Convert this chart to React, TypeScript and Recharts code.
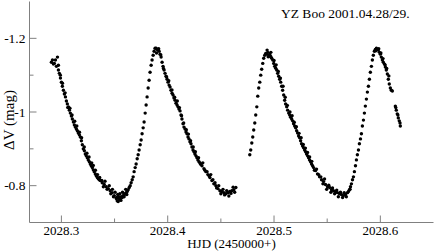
import { ScatterChart, Scatter, XAxis, YAxis } from 'recharts';

// YZ Boo light curve, night of 2001.04.28/29 (HJD - 2450000, delta V)
const nightFirst: [number, number][] = [
  [2028.2906, -1.135], [2028.2916, -1.141], [2028.2925, -1.130], [2028.2934, -1.132], [2028.2944, -1.141],
  [2028.2953, -1.124], [2028.2963, -1.149], [2028.2972, -1.114], [2028.2972, -1.127], [2028.2981, -1.105],
  [2028.2990, -1.100], [2028.2991, -1.092], [2028.3000, -1.081], [2028.3009, -1.070], [2028.3010, -1.078],
  [2028.3019, -1.059], [2028.3028, -1.049], [2028.3035, -1.052], [2028.3038, -1.041], [2028.3047, -1.030],
  [2028.3056, -1.022], [2028.3060, -1.012], [2028.3066, -1.014], [2028.3075, -1.005], [2028.3080, -1.010],
  [2028.3084, -0.997], [2028.3094, -0.989], [2028.3100, -0.992], [2028.3103, -0.981], [2028.3113, -0.973],
  [2028.3122, -0.965], [2028.3125, -0.975], [2028.3131, -0.959], [2028.3141, -0.954], [2028.3145, -0.962],
  [2028.3150, -0.949], [2028.3159, -0.943], [2028.3169, -0.938], [2028.3170, -0.945], [2028.3178, -0.932],
  [2028.3188, -0.922], [2028.3190, -0.930], [2028.3197, -0.911], [2028.3206, -0.900], [2028.3215, -0.905],
  [2028.3216, -0.895], [2028.3225, -0.886], [2028.3234, -0.881], [2028.3240, -0.888], [2028.3244, -0.876],
  [2028.3253, -0.870], [2028.3260, -0.878], [2028.3263, -0.865], [2028.3272, -0.859], [2028.3281, -0.854],
  [2028.3285, -0.862], [2028.3291, -0.849], [2028.3300, -0.843], [2028.3300, -0.855], [2028.3309, -0.838],
  [2028.3319, -0.832], [2028.3320, -0.842], [2028.3328, -0.827], [2028.3338, -0.822], [2028.3340, -0.830],
  [2028.3347, -0.819], [2028.3356, -0.816], [2028.3360, -0.822], [2028.3366, -0.814], [2028.3380, -0.814],
  [2028.3384, -0.808], [2028.3395, -0.797], [2028.3403, -0.803], [2028.3410, -0.812], [2028.3422, -0.797],
  [2028.3430, -0.790], [2028.3441, -0.792], [2028.3450, -0.800], [2028.3459, -0.786], [2028.3465, -0.778],
  [2028.3478, -0.781], [2028.3480, -0.790], [2028.3490, -0.770], [2028.3497, -0.773], [2028.3505, -0.782],
  [2028.3516, -0.765], [2028.3520, -0.768], [2028.3525, -0.759], [2028.3530, -0.776], [2028.3534, -0.757],
  [2028.3540, -0.770], [2028.3544, -0.765], [2028.3550, -0.778], [2028.3553, -0.762], [2028.3560, -0.760],
  [2028.3563, -0.770], [2028.3572, -0.768], [2028.3575, -0.782], [2028.3581, -0.773], [2028.3590, -0.770],
  [2028.3591, -0.776], [2028.3600, -0.778], [2028.3605, -0.790], [2028.3609, -0.781], [2028.3615, -0.776],
  [2028.3619, -0.784], [2028.3628, -0.789], [2028.3638, -0.795], [2028.3647, -0.800], [2028.3656, -0.808],
  [2028.3666, -0.816], [2028.3675, -0.824], [2028.3684, -0.838], [2028.3694, -0.849], [2028.3703, -0.859],
  [2028.3713, -0.873], [2028.3722, -0.884], [2028.3731, -0.897], [2028.3741, -0.911], [2028.3750, -0.924],
  [2028.3759, -0.941], [2028.3769, -0.957], [2028.3778, -0.973], [2028.3788, -0.997], [2028.3797, -1.019],
  [2028.3806, -1.041], [2028.3816, -1.065], [2028.3825, -1.086], [2028.3834, -1.108], [2028.3844, -1.127],
  [2028.3853, -1.141], [2028.3863, -1.154], [2028.3872, -1.165], [2028.3881, -1.173], [2028.3891, -1.173],
  [2028.3895, -1.160], [2028.3900, -1.170], [2028.3909, -1.168], [2028.3915, -1.172], [2028.3919, -1.165],
  [2028.3928, -1.157], [2028.3935, -1.155], [2028.3938, -1.149], [2028.3947, -1.135], [2028.3956, -1.124],
  [2028.3960, -1.118], [2028.3966, -1.114], [2028.3975, -1.105], [2028.3984, -1.097], [2028.3990, -1.095],
  [2028.3994, -1.089], [2028.4003, -1.081], [2028.4010, -1.085], [2028.4013, -1.073], [2028.4022, -1.068],
  [2028.4031, -1.059], [2028.4040, -1.060], [2028.4041, -1.051], [2028.4050, -1.046], [2028.4059, -1.038],
  [2028.4065, -1.040], [2028.4069, -1.032], [2028.4078, -1.024], [2028.4088, -1.019], [2028.4090, -1.030],
  [2028.4097, -1.014], [2028.4106, -1.008], [2028.4110, -1.012], [2028.4116, -1.003], [2028.4125, -0.992],
  [2028.4130, -0.990], [2028.4134, -0.981], [2028.4144, -0.968], [2028.4150, -0.970], [2028.4153, -0.959],
  [2028.4163, -0.954], [2028.4172, -0.946], [2028.4175, -0.952], [2028.4181, -0.941], [2028.4191, -0.932],
  [2028.4195, -0.940], [2028.4200, -0.927], [2028.4209, -0.919], [2028.4215, -0.922], [2028.4219, -0.914],
  [2028.4228, -0.905], [2028.4238, -0.897], [2028.4240, -0.905], [2028.4247, -0.892], [2028.4256, -0.886],
  [2028.4260, -0.892], [2028.4266, -0.881], [2028.4275, -0.876], [2028.4284, -0.870], [2028.4290, -0.876],
  [2028.4294, -0.865], [2028.4303, -0.862], [2028.4310, -0.858], [2028.4322, -0.854], [2028.4330, -0.862],
  [2028.4341, -0.846], [2028.4350, -0.842], [2028.4359, -0.838], [2028.4370, -0.838], [2028.4378, -0.830],
  [2028.4390, -0.826], [2028.4397, -0.822], [2028.4405, -0.830], [2028.4416, -0.814], [2028.4425, -0.816],
  [2028.4434, -0.805], [2028.4445, -0.808], [2028.4453, -0.800], [2028.4460, -0.794], [2028.4472, -0.792],
  [2028.4480, -0.800], [2028.4491, -0.786], [2028.4500, -0.778], [2028.4509, -0.784], [2028.4520, -0.790],
  [2028.4528, -0.781], [2028.4535, -0.775], [2028.4547, -0.778], [2028.4555, -0.786], [2028.4566, -0.781],
  [2028.4575, -0.772], [2028.4584, -0.784], [2028.4595, -0.779], [2028.4603, -0.786], [2028.4615, -0.796],
  [2028.4622, -0.789], [2028.4630, -0.782], [2028.4641, -0.795],
];

const nightSecond: [number, number][] = [
  [2028.4772, -0.884], [2028.4781, -0.897], [2028.4791, -0.916], [2028.4800, -0.932], [2028.4809, -0.951],
  [2028.4819, -0.970], [2028.4828, -0.992], [2028.4838, -1.014], [2028.4847, -1.043], [2028.4856, -1.065],
  [2028.4866, -1.081], [2028.4875, -1.100], [2028.4884, -1.116], [2028.4894, -1.132], [2028.4903, -1.146],
  [2028.4913, -1.154], [2028.4922, -1.159], [2028.4931, -1.157], [2028.4935, -1.168], [2028.4941, -1.162],
  [2028.4945, -1.150], [2028.4950, -1.151], [2028.4959, -1.157], [2028.4969, -1.151], [2028.4970, -1.162],
  [2028.4978, -1.146], [2028.4988, -1.141], [2028.4997, -1.132], [2028.5000, -1.140], [2028.5006, -1.124],
  [2028.5016, -1.119], [2028.5020, -1.128], [2028.5025, -1.114], [2028.5034, -1.105], [2028.5040, -1.110],
  [2028.5044, -1.097], [2028.5053, -1.089], [2028.5060, -1.092], [2028.5063, -1.081], [2028.5072, -1.070],
  [2028.5081, -1.059], [2028.5085, -1.070], [2028.5091, -1.046], [2028.5100, -1.032], [2028.5105, -1.040],
  [2028.5109, -1.022], [2028.5119, -1.014], [2028.5125, -1.018], [2028.5128, -1.005], [2028.5138, -0.997],
  [2028.5147, -0.992], [2028.5150, -1.000], [2028.5156, -0.986], [2028.5166, -0.981], [2028.5170, -0.990],
  [2028.5175, -0.976], [2028.5184, -0.968], [2028.5190, -0.972], [2028.5194, -0.962], [2028.5203, -0.957],
  [2028.5210, -0.960], [2028.5213, -0.949], [2028.5222, -0.943], [2028.5231, -0.935], [2028.5235, -0.942],
  [2028.5241, -0.930], [2028.5250, -0.922], [2028.5255, -0.930], [2028.5259, -0.914], [2028.5269, -0.908],
  [2028.5275, -0.912], [2028.5278, -0.903], [2028.5288, -0.897], [2028.5295, -0.902], [2028.5297, -0.892],
  [2028.5306, -0.886], [2028.5315, -0.890], [2028.5316, -0.881], [2028.5325, -0.876], [2028.5334, -0.870],
  [2028.5335, -0.878], [2028.5344, -0.865], [2028.5353, -0.859], [2028.5355, -0.866], [2028.5363, -0.854],
  [2028.5372, -0.849], [2028.5380, -0.842], [2028.5391, -0.841], [2028.5400, -0.845], [2028.5409, -0.832],
  [2028.5420, -0.830], [2028.5428, -0.824], [2028.5440, -0.824], [2028.5447, -0.816], [2028.5460, -0.805],
  [2028.5466, -0.811], [2028.5475, -0.818], [2028.5484, -0.803], [2028.5495, -0.790], [2028.5503, -0.797],
  [2028.5515, -0.801], [2028.5522, -0.795], [2028.5535, -0.782], [2028.5541, -0.789], [2028.5550, -0.794],
  [2028.5559, -0.786], [2028.5570, -0.778], [2028.5578, -0.784], [2028.5590, -0.788], [2028.5597, -0.781],
  [2028.5605, -0.770], [2028.5616, -0.778], [2028.5625, -0.782], [2028.5634, -0.776], [2028.5645, -0.768],
  [2028.5653, -0.773], [2028.5660, -0.781], [2028.5672, -0.776], [2028.5680, -0.770], [2028.5691, -0.781],
  [2028.5700, -0.784], [2028.5709, -0.789], [2028.5715, -0.790], [2028.5719, -0.797], [2028.5728, -0.805],
  [2028.5738, -0.816], [2028.5747, -0.824], [2028.5756, -0.838], [2028.5766, -0.854], [2028.5775, -0.870],
  [2028.5784, -0.884], [2028.5794, -0.897], [2028.5803, -0.914], [2028.5813, -0.927], [2028.5822, -0.941],
  [2028.5831, -0.962], [2028.5841, -0.978], [2028.5850, -0.997], [2028.5859, -1.016], [2028.5869, -1.035],
  [2028.5878, -1.054], [2028.5888, -1.070], [2028.5897, -1.089], [2028.5906, -1.108], [2028.5916, -1.124],
  [2028.5925, -1.141], [2028.5934, -1.154], [2028.5944, -1.165], [2028.5953, -1.170], [2028.5958, -1.166],
  [2028.5963, -1.173], [2028.5972, -1.170], [2028.5981, -1.168], [2028.5985, -1.172], [2028.5991, -1.162],
  [2028.6000, -1.157], [2028.6005, -1.160], [2028.6009, -1.149], [2028.6019, -1.141], [2028.6025, -1.145],
  [2028.6028, -1.135], [2028.6038, -1.130], [2028.6045, -1.128], [2028.6047, -1.122], [2028.6056, -1.114],
  [2028.6060, -1.118], [2028.6066, -1.103], [2028.6075, -1.089], [2028.6080, -1.098], [2028.6084, -1.076],
  [2028.6094, -1.065], [2028.6103, -1.059], [2028.6113, -1.057], [2028.6141, -1.016], [2028.6145, -1.012],
  [2028.6150, -1.005], [2028.6159, -0.995], [2028.6165, -0.992], [2028.6169, -0.984], [2028.6178, -0.976],
  [2028.6185, -0.970], [2028.6188, -0.962],
];

const xMajor = [2028.3, 2028.4, 2028.5, 2028.6];
const xMinor = [2028.35, 2028.45, 2028.55];
const yMajor = [-1.2, -1.0, -0.8];
const yMinor = [-1.1, -0.9];

const xTicks = [...xMajor, ...xMinor].sort((a, b) => a - b);
const yTicks = [...yMajor, ...yMinor].sort((a, b) => a - b);

const data = [...nightFirst, ...nightSecond].map(([hjd, dv]) => ({ hjd, dv }));

const AXIS = '#808080';
const FONT = '"Liberation Serif", "DejaVu Serif", serif';

const BottomTick = (props: any) => {
  const { x, y, payload } = props;
  const major = xMajor.includes(payload.value);
  return (
    <g>
      <line x1={x} y1={y} x2={x} y2={y - (major ? 7 : 4)} stroke={AXIS} />
      {major && (
        <text x={x} y={y + 12} textAnchor="middle" fontSize={13} fontFamily={FONT} fill="#000">
          {payload.value.toFixed(1)}
        </text>
      )}
    </g>
  );
};

const TopTick = (props: any) => {
  const { x, y, payload } = props;
  const major = xMajor.includes(payload.value);
  return <line x1={x} y1={y} x2={x} y2={y + (major ? 7 : 4)} stroke={AXIS} />;
};

const LeftTick = (props: any) => {
  const { x, y, payload } = props;
  const major = yMajor.includes(payload.value);
  return (
    <g>
      <line x1={x} y1={y} x2={x + (major ? 7 : 4)} y2={y} stroke={AXIS} />
      {major && (
        <text x={x - 4} y={y + 4.5} textAnchor="end" fontSize={13.5} fontFamily={FONT} fill="#000">
          {String(Number(payload.value.toFixed(1)))}
        </text>
      )}
    </g>
  );
};

const RightTick = (props: any) => {
  const { x, y, payload } = props;
  const major = yMajor.includes(payload.value);
  return <line x1={x} y1={y} x2={x - (major ? 7 : 4)} y2={y} stroke={AXIS} />;
};

const YTitle = (props: any) => {
  const { viewBox } = props;
  const cx = viewBox.x + 8;
  const cy = viewBox.y + viewBox.height / 2 + 8;
  return (
    <text x={cx} y={cy} transform={`rotate(-90 ${cx} ${cy})`} textAnchor="middle" dominantBaseline="central"
      fontSize={15} fontFamily={FONT} fill="#000">
      ΔV (mag)
    </text>
  );
};

const Dot = (props: any) => <circle cx={props.cx} cy={props.cy} r={1.7} fill="#000" />;

export default function App() {
  return (
    <div style={{ position: 'absolute', left: 0, top: 0, width: 436, height: 251, background: '#fff' }}>
      <ScatterChart width={436} height={251} margin={{ top: 1.5, right: 2.5, bottom: 0, left: 0.5 }}>
        <XAxis
          dataKey="hjd"
          type="number"
          domain={[2028.27, 2028.65]}
          allowDataOverflow
          ticks={xTicks}
          interval={0}
          height={28.5}
          tickSize={0}
          tickMargin={0}
          tickLine={false}
          tick={BottomTick}
          axisLine={{ stroke: AXIS }}
          label={{ value: 'HJD (2450000+)', position: 'insideBottom', offset: 3, fontSize: 13, fontFamily: FONT, fill: '#000' }}
        />
        <XAxis
          xAxisId="top"
          orientation="top"
          type="number"
          domain={[2028.27, 2028.65]}
          allowDataOverflow
          ticks={xTicks}
          interval={0}
          height={0}
          tickSize={0}
          tickMargin={0}
          tickLine={false}
          tick={TopTick}
          axisLine={{ stroke: AXIS }}
        />
        <YAxis
          dataKey="dv"
          type="number"
          reversed
          domain={[-1.3, -0.7]}
          allowDataOverflow
          ticks={yTicks}
          interval={0}
          width={29}
          tickSize={0}
          tickMargin={0}
          tickLine={false}
          tick={LeftTick}
          axisLine={{ stroke: AXIS }}
          label={YTitle}
        />
        <YAxis
          yAxisId="right"
          orientation="right"
          type="number"
          reversed
          domain={[-1.3, -0.7]}
          allowDataOverflow
          ticks={yTicks}
          interval={0}
          width={0}
          tickSize={0}
          tickMargin={0}
          tickLine={false}
          tick={RightTick}
          axisLine={{ stroke: AXIS }}
        />
        <Scatter data={data} shape={Dot} isAnimationActive={false} />
        <text x={281} y={18} fontSize={13.5} fontFamily={FONT} fill="#000">
          YZ Boo 2001.04.28/29.
        </text>
      </ScatterChart>
    </div>
  );
}
